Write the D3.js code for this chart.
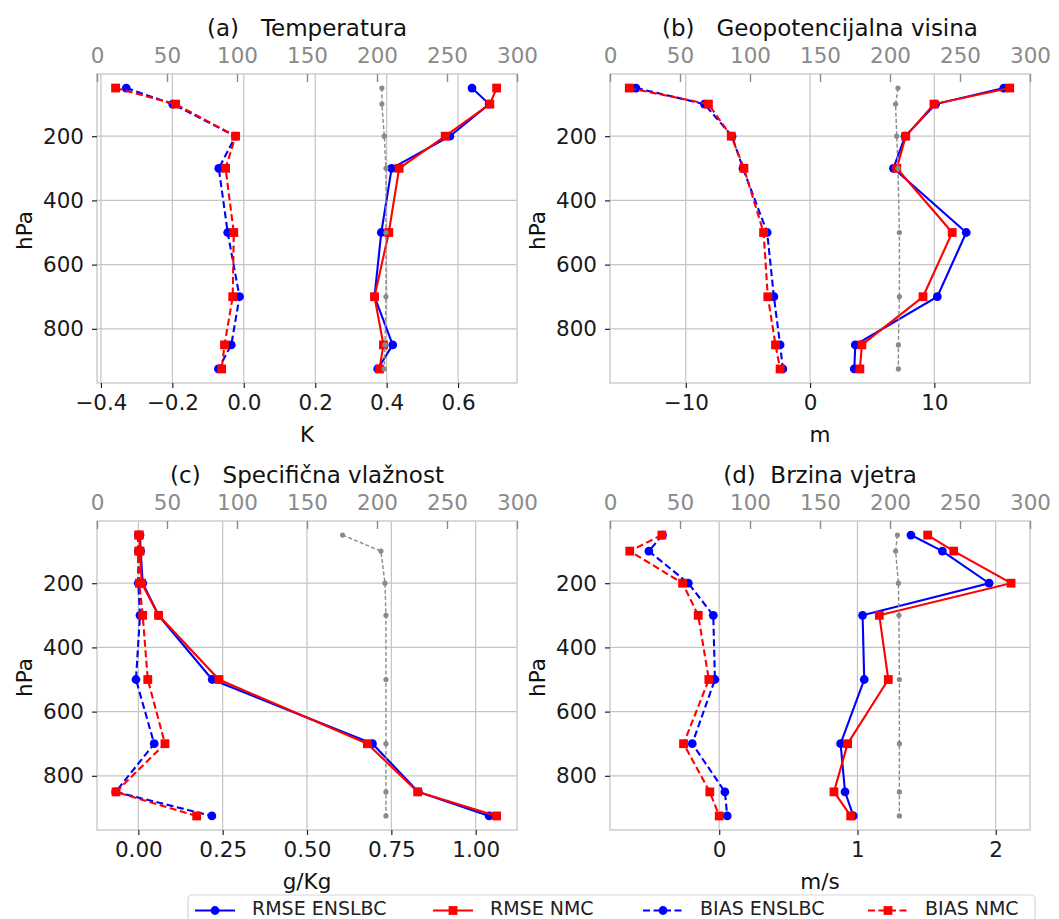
<!DOCTYPE html>
<html>
<head>
<meta charset="utf-8">
<script src="https://cdn.jsdelivr.net/npm/d3@7"></script>
<style>
  html, body { margin: 0; padding: 0; background: #fff; }
  svg { display: block; font-family: "DejaVu Sans", sans-serif; }
</style>
</head>
<body>
<svg id="chart" width="1059" height="919"></svg>
<script>
// ---------------- DATA ----------------
const levels = [50, 100, 200, 300, 500, 700, 850, 925];
const seriesNames = ["RMSE ENSLBC", "RMSE NMC", "BIAS ENSLBC", "BIAS NMC"];

// (a) Temperatura [K]
const tempRmseEns = [0.639, 0.687, 0.577, 0.414, 0.385, 0.366, 0.417, 0.375];
const tempRmseNmc = [0.708, 0.689, 0.564, 0.435, 0.406, 0.366, 0.391, 0.380];
const tempBiasEns = [-0.329, -0.199, -0.023, -0.070, -0.045, -0.012, -0.035, -0.071];
const tempBiasNmc = [-0.359, -0.191, -0.023, -0.051, -0.028, -0.031, -0.054, -0.062];
const tempCount   = [203.5, 203.5, 205.2, 206.4, 206.4, 206.4, 205.7, 205.2];

// (b) Geopotencijalna visina [m]
const geoRmseEns = [15.59, 10.11, 7.65, 6.71, 12.57, 10.24, 3.64, 3.56];
const geoRmseNmc = [16.07, 9.97, 7.70, 6.98, 11.44, 9.09, 4.17, 4.01];
const geoBiasEns = [-14.01, -8.50, -6.28, -5.40, -3.45, -2.91, -2.41, -2.19];
const geoBiasNmc = [-14.55, -8.18, -6.34, -5.32, -3.74, -3.40, -2.78, -2.41];
const geoCount   = [205.7, 204.0, 204.8, 205.7, 206.7, 206.7, 206.0, 206.0];

// (c) Specificna vlaznost [g/Kg]
const humRmseEns = [0.005, 0.007, 0.013, 0.060, 0.219, 0.694, 0.830, 1.040];
const humRmseNmc = [0.003, 0.005, 0.010, 0.060, 0.239, 0.679, 0.828, 1.062];
const humBiasEns = [0.000, 0.000, 0.000, 0.005, -0.007, 0.047, -0.067, 0.218];
const humBiasNmc = [0.001, 0.001, 0.003, 0.013, 0.028, 0.079, -0.066, 0.173];
const humCount   = [175.4, 202.8, 205.7, 206.4, 206.4, 206.4, 206.4, 206.4];

// (d) Brzina vjetra [m/s]
const windRmseEns = [1.387, 1.614, 1.952, 1.037, 1.049, 0.878, 0.910, 0.970];
const windRmseNmc = [1.508, 1.696, 2.111, 1.158, 1.223, 0.929, 0.830, 0.951];
const windBiasEns = [-0.410, -0.509, -0.224, -0.043, -0.031, -0.195, 0.041, 0.058];
const windBiasNmc = [-0.415, -0.647, -0.265, -0.152, -0.075, -0.258, -0.068, 0.000];
const windCount   = [205.3, 204.0, 206.0, 206.4, 206.7, 206.7, 206.7, 206.7];

// Tick labels
const titles = ["(a)   Temperatura", "(b)   Geopotencijalna visina", "(c)   Specifična vlažnost", "(d)  Brzina vjetra"];
const units = ["K", "m", "g/Kg", "m/s"];
const yTicks = [200, 400, 600, 800];
const topTicks = [0, 50, 100, 150, 200, 250, 300];
const tempTicks = [-0.4, -0.2, 0.0, 0.2, 0.4, 0.6];
const geoTicks = [-10, 0, 10];
const humTicks = [0.00, 0.25, 0.50, 0.75, 1.00];
const windTicks = [0, 1, 2];

// ---------------- LAYOUT ----------------
const panels = [
  { left: 97,  top: 74,  xDomain: [-0.411, 0.765], ticks: tempTicks, fmt: ".1f",
    data: [tempRmseEns, tempRmseNmc, tempBiasEns, tempBiasNmc], count: tempCount },
  { left: 610, top: 74,  xDomain: [-16.1, 17.7], ticks: geoTicks, fmt: "d",
    data: [geoRmseEns, geoRmseNmc, geoBiasEns, geoBiasNmc], count: geoCount },
  { left: 97,  top: 521, xDomain: [-0.1225, 1.1225], ticks: humTicks, fmt: ".2f",
    data: [humRmseEns, humRmseNmc, humBiasEns, humBiasNmc], count: humCount },
  { left: 610, top: 521, xDomain: [-0.79, 2.248], ticks: windTicks, fmt: "d",
    data: [windRmseEns, windRmseNmc, windBiasEns, windBiasNmc], count: windCount }
];
const W = 420, H = 309;
const styles = [
  { color: "#0000ff", dash: null,  marker: "circle" },
  { color: "#ff0000", dash: null,  marker: "square" },
  { color: "#0000ff", dash: "7,3.5", marker: "circle" },
  { color: "#ff0000", dash: "7,3.5", marker: "square" }
];

const svg = d3.select("#chart");
const tickFont = 21.5;

function drawMarker(g, type, color, x, y) {
  if (type === "circle") {
    g.append("circle").attr("cx", x).attr("cy", y).attr("r", 4.4).attr("fill", color);
  } else {
    g.append("rect").attr("x", x - 4.4).attr("y", y - 4.4).attr("width", 8.8).attr("height", 8.8).attr("fill", color);
  }
}

panels.forEach((p, i) => {
  const g = svg.append("g").attr("transform", `translate(${p.left},${p.top})`);
  const x = d3.scaleLinear().domain(p.xDomain).range([0, W]);
  const xTop = d3.scaleLinear().domain([0, 300]).range([0, W]);
  const y = d3.scaleLinear().domain([6.25, 968.75]).range([0, H]);

  // grid
  g.append("g").selectAll("line").data(p.ticks).join("line")
    .attr("x1", d => x(d)).attr("x2", d => x(d)).attr("y1", 0).attr("y2", H)
    .attr("stroke", "#c4c4c4").attr("stroke-width", 1.2);
  g.append("g").selectAll("line").data(yTicks).join("line")
    .attr("x1", 0).attr("x2", W).attr("y1", d => y(d)).attr("y2", d => y(d))
    .attr("stroke", "#c4c4c4").attr("stroke-width", 1.2);

  // frame
  g.append("rect").attr("x", 0).attr("y", 0).attr("width", W).attr("height", H)
    .attr("fill", "none").attr("stroke", "#d0d0d0").attr("stroke-width", 1.6);

  // bottom axis
  const fmt = d3.format(p.fmt);
  const ax = g.append("g").attr("transform", `translate(0,${H})`)
    .call(d3.axisBottom(x).tickValues(p.ticks).tickFormat(fmt).tickSize(5).tickPadding(7));
  ax.select(".domain").remove();
  ax.selectAll("line").attr("stroke", "#222").attr("stroke-width", 1.2);
  ax.selectAll("text").attr("font-size", tickFont).attr("fill", "#1a1a1a").attr("font-family", "DejaVu Sans");

  // left axis
  const ay = g.append("g")
    .call(d3.axisLeft(y).tickValues(yTicks).tickFormat(d3.format("d")).tickSize(5).tickPadding(8));
  ay.select(".domain").remove();
  ay.selectAll("line").attr("stroke", "#222").attr("stroke-width", 1.2);
  ay.selectAll("text").attr("font-size", tickFont).attr("fill", "#1a1a1a").attr("font-family", "DejaVu Sans");

  // top axis (counts)
  const at = g.append("g")
    .call(d3.axisTop(xTop).tickValues(topTicks).tickFormat(d3.format("d")).tickSize(-8).tickPadding(11));
  at.select(".domain").remove();
  at.selectAll("line").attr("stroke", "#8a8a8a").attr("stroke-width", 1.4);
  at.selectAll("text").attr("font-size", tickFont).attr("fill", "#8a8a8a").attr("font-family", "DejaVu Sans");

  // title
  g.append("text").attr("x", W / 2).attr("y", -38).attr("text-anchor", "middle")
    .attr("xml:space", "preserve").style("white-space", "pre")
    .attr("font-size", 23).attr("fill", "#111").text(titles[i]);

  // x label
  g.append("text").attr("x", W / 2).attr("y", H + 59).attr("text-anchor", "middle")
    .attr("font-size", tickFont).attr("fill", "#111").text(units[i]);

  // y label
  g.append("text").attr("transform", `translate(${-65},${H / 2 + 2}) rotate(-90)`)
    .attr("text-anchor", "middle").attr("font-size", tickFont).attr("fill", "#111").text("hPa");

  // series
  p.data.forEach((vals, si) => {
    const st = styles[si];
    const pts = levels.map((lv, k) => [x(vals[k]), y(lv)]);
    g.append("path").attr("d", d3.line()(pts)).attr("fill", "none")
      .attr("stroke", st.color).attr("stroke-width", 2.1)
      .attr("stroke-dasharray", st.dash);
    const mg = g.append("g");
    pts.forEach(pt => drawMarker(mg, st.marker, st.color, pt[0], pt[1]));
  });

  // count line (top axis)
  const cpts = levels.map((lv, k) => [xTop(p.count[k]), y(lv)]);
  g.append("path").attr("d", d3.line()(cpts)).attr("fill", "none")
    .attr("stroke", "#8a8a8a").attr("stroke-width", 1.4).attr("stroke-dasharray", "4,2.2");
  g.append("g").selectAll("circle").data(cpts).join("circle")
    .attr("cx", d => d[0]).attr("cy", d => d[1]).attr("r", 2.6).attr("fill", "#8a8a8a");
});

// ---------------- LEGEND ----------------
const lg = svg.append("g");
lg.append("rect").attr("x", 188).attr("y", 895).attr("width", 847).attr("height", 45)
  .attr("rx", 4).attr("fill", "#fff").attr("stroke", "#d6d6d6").attr("stroke-width", 1.2);
const legendX = [195, 433, 643, 868];
seriesNames.forEach((name, i) => {
  const st = styles[i];
  const x0 = legendX[i], yc = 910.5;
  lg.append("line").attr("x1", x0).attr("x2", x0 + 40).attr("y1", yc).attr("y2", yc)
    .attr("stroke", st.color).attr("stroke-width", 2.1).attr("stroke-dasharray", st.dash);
  drawMarker(lg, st.marker, st.color, x0 + 20, yc);
  lg.append("text").attr("x", x0 + 57).attr("y", 914.5).attr("font-size", 19)
    .attr("fill", "#222").text(name);
});
</script>
</body>
</html>
